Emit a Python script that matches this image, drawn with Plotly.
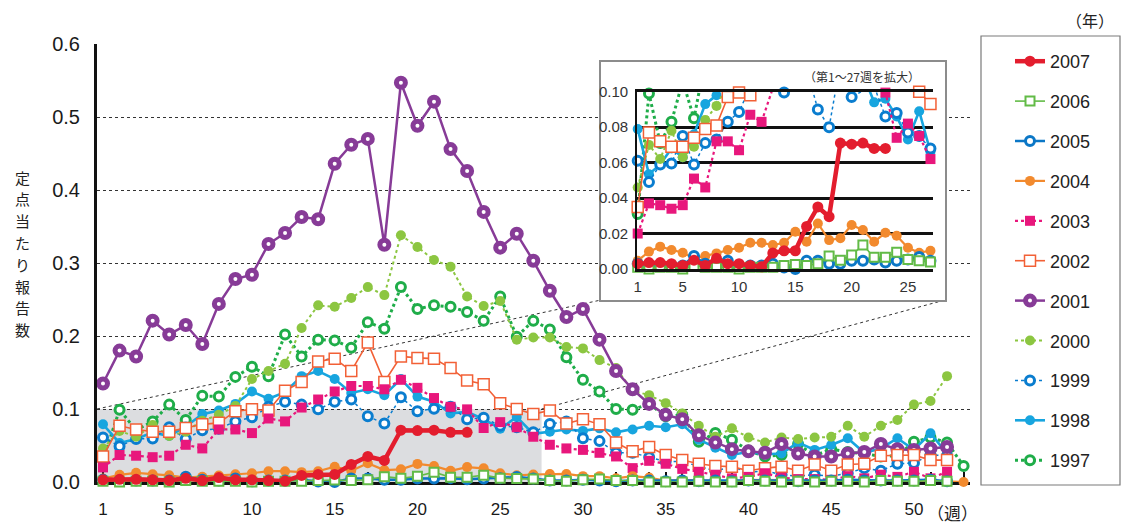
import plotly.graph_objects as go

W, H = 1122, 524

# ---------------- data ----------------
week_tick_vals = [1, 5, 10, 15, 20, 25, 30, 35, 40, 45, 50]
week_tick_labels = ["1", "5", "10", "15", "20", "25", "30", "35", "40", "45", "50"]
inset_tick_vals = [1, 5, 10, 15, 20, 25]
inset_tick_labels = ["1", "5", "10", "15", "20", "25"]
y_tick_vals = [0, 0.1, 0.2, 0.3, 0.4, 0.5, 0.6]
y_tick_labels = ["0.0", "0.1", "0.2", "0.3", "0.4", "0.5", "0.6"]
inset_y_tick_vals = [0, 0.02, 0.04, 0.06, 0.08, 0.10]
inset_y_tick_labels = ["0.00", "0.02", "0.04", "0.06", "0.08", "0.10"]
y_title_chars = ["定", "点", "当", "た", "り", "報", "告", "数"]

years = ["1997", "1998", "1999", "2000", "2001", "2002", "2003", "2004", "2005", "2006", "2007"]

v1997 = [0.031, 0.099, 0.071, 0.083, 0.106, 0.085, 0.118, 0.117, 0.144, 0.158,
         0.145, 0.202, 0.172, 0.195, 0.194, 0.184, 0.219, 0.210, 0.267, 0.237,
         0.242, 0.240, 0.233, 0.221, 0.254, 0.199, 0.221, 0.209, 0.171, 0.140,
         0.124, 0.100, 0.099, 0.107, 0.090, 0.092, 0.055, 0.067, 0.058, 0.043,
         0.035, 0.037, 0.052, 0.036, 0.045, 0.041, 0.039, 0.035, 0.036, 0.055,
         0.061, 0.054, 0.022]
v1998 = [0.079, 0.0535, 0.059, 0.068, 0.063, 0.076, 0.093, 0.098, 0.107, 0.124,
         0.114, 0.123, 0.145, 0.152, 0.141, 0.122, 0.127, 0.119, 0.141, 0.117,
         0.110, 0.094, 0.096, 0.086, 0.073, 0.089, 0.066, 0.069, 0.072, 0.070,
         0.0735, 0.068, 0.072, 0.077, 0.075, 0.079, 0.058, 0.047, 0.037, 0.0415,
         0.038, 0.039, 0.054, 0.044, 0.0507, 0.060, 0.040, 0.046, 0.060, 0.044,
         0.0667, 0.039]
v1999 = [0.061, 0.049, 0.059, 0.0595, 0.075, 0.059, 0.071, 0.073, 0.083, 0.0886,
         0.103, 0.110, 0.106, 0.0995, 0.110, 0.113, 0.090, 0.080, 0.116, 0.097,
         0.1005, 0.103, 0.086, 0.088, 0.077, 0.075, 0.068, 0.0795, 0.083, 0.060,
         0.056, 0.040, 0.040, 0.034, 0.028, 0.028, 0.021, 0.015, 0.021, 0.013,
         0.0155, 0.010, 0.008, 0.010, 0.008, 0.012, 0.019, 0.0155, 0.025, 0.026,
         0.037, 0.036]
v2000 = [0.046, 0.070, 0.062, 0.078, 0.063, 0.069, 0.084, 0.092, 0.104, 0.141,
         0.152, 0.162, 0.211, 0.242, 0.240, 0.252, 0.267, 0.256, 0.338, 0.322,
         0.304, 0.295, 0.254, 0.241, 0.248, 0.195, 0.198, 0.198, 0.185, 0.183,
         0.167, 0.156, 0.125, 0.119, 0.108, 0.094, 0.077, 0.062, 0.0735, 0.061,
         0.054, 0.061, 0.059, 0.061, 0.062, 0.077, 0.062, 0.077, 0.085, 0.106,
         0.111, 0.145]
v2001 = [0.135, 0.180, 0.172, 0.221, 0.202, 0.215, 0.189, 0.244, 0.278, 0.284,
         0.326, 0.341, 0.363, 0.360, 0.436, 0.462, 0.470, 0.325, 0.547, 0.488,
         0.521, 0.456, 0.426, 0.370, 0.321, 0.340, 0.303, 0.262, 0.226, 0.237,
         0.195, 0.152, 0.127, 0.107, 0.092, 0.086, 0.064, 0.054, 0.045, 0.042,
         0.040, 0.052, 0.039, 0.035, 0.035, 0.039, 0.041, 0.052, 0.045, 0.044,
         0.046, 0.048]
v2002 = [0.035, 0.077, 0.072, 0.069, 0.069, 0.074, 0.079, 0.081, 0.097, 0.0995,
         0.098, 0.125, 0.137, 0.165, 0.169, 0.152, 0.191, 0.137, 0.172, 0.170,
         0.169, 0.156, 0.139, 0.134, 0.108, 0.100, 0.093, 0.098, 0.080, 0.086,
         0.079, 0.054, 0.042, 0.048, 0.037, 0.030, 0.025, 0.022, 0.021, 0.0155,
         0.019, 0.021, 0.0155, 0.024, 0.0155, 0.024, 0.025, 0.036, 0.037, 0.037,
         0.030, 0.030]
v2003 = [0.020, 0.037, 0.036, 0.034, 0.036, 0.051, 0.046, 0.072, 0.072, 0.067,
         0.087, 0.083, 0.102, 0.113, 0.124, 0.1315, 0.1315, 0.127, 0.140, 0.129,
         0.115, 0.103, 0.0995, 0.074, 0.082, 0.075, 0.062, 0.051, 0.046, 0.044,
         0.040, 0.035, 0.019, 0.029, 0.025, 0.018, 0.014, 0.010, 0.005, 0.007,
         0.012, 0.006, 0.004, 0.004, 0.003, 0.008, 0.005, 0.010, 0.007, 0.014,
         0.005, 0.014]
v2004 = [0.0047, 0.0098, 0.0126, 0.0107, 0.0092, 0.006, 0.0073, 0.0088, 0.0107, 0.012,
         0.0148, 0.0148, 0.0135, 0.0148, 0.021, 0.0154, 0.0257, 0.0163, 0.0173, 0.0248,
         0.022, 0.0154, 0.0204, 0.0188, 0.012, 0.0092, 0.0103, 0.011, 0.011, 0.008,
         0.008, 0.005, 0.008, 0.006, 0.0015, 0.003, 0.002, 0.001, 0.001, 0.003,
         0.003, 0.002, 0.002, 0.002, 0.001, 0.002, 0.001, 0.002, 0.001, 0.002,
         0.002, 0.001, 0.0]
v2005 = [0.003, 0.002, 0.002, 0.002, 0.002, 0.0073, 0.003, 0.002, 0.0047, 0.001,
         0.002, 0.002, 0.003, 0.0008, 0.0, 0.0047, 0.0047, 0.003, 0.003, 0.0047,
         0.0047, 0.0053, 0.0036, 0.0047, 0.0053, 0.0068, 0.0047, 0.002, 0.002, 0.003,
         0.002, 0.001, 0.002, 0.002, 0.001, 0.002, 0.001, 0.002, 0.001, 0.002,
         0.002, 0.002, 0.001, 0.002, 0.002, 0.003, 0.002, 0.002, 0.002, 0.002,
         0.003, 0.001]
v2006 = [0.001, 0.0, 0.001, 0.001, 0.0, 0.002, 0.001, 0.001, 0.001, 0.0,
         0.001, 0.001, 0.001, 0.002, 0.0026, 0.002, 0.003, 0.0073, 0.005, 0.0079,
         0.0135, 0.0066, 0.0066, 0.0094, 0.0053, 0.0047, 0.004, 0.002, 0.001, 0.003,
         0.004, 0.002, 0.002, 0.0, 0.0, 0.0, 0.001, 0.0, 0.0, 0.002,
         0.001, 0.0, 0.001, 0.0, 0.001, 0.001, 0.0, 0.002, 0.001, 0.001,
         0.002, 0.001]
v2007 = [0.003, 0.0036, 0.0036, 0.003, 0.002, 0.005, 0.002, 0.006, 0.003, 0.003,
         0.002, 0.0012, 0.009, 0.0103, 0.0103, 0.024, 0.035, 0.0295, 0.071, 0.0704,
         0.071, 0.068, 0.068]

values = {"1997": v1997, "1998": v1998, "1999": v1999, "2000": v2000, "2001": v2001,
          "2002": v2002, "2003": v2003, "2004": v2004, "2005": v2005, "2006": v2006,
          "2007": v2007}

# ---------------- styles ----------------
styles = {
    "2007": dict(color="#e31d2e", width=4.5, dash="solid", symbol="circle", size=11, open=False, lw=0),
    "2006": dict(color="#62bb47", width=1.6, dash="solid", symbol="square", size=9, open=True, lw=2),
    "2005": dict(color="#0b77c6", width=2.5, dash="solid", symbol="circle", size=9, open=True, lw=3),
    "2004": dict(color="#f28a2e", width=2.2, dash="solid", symbol="circle", size=10, open=False, lw=0),
    "2003": dict(color="#e8177c", width=2.2, dash="dot", symbol="square", size=10, open=False, lw=0),
    "2002": dict(color="#f26036", width=1.6, dash="solid", symbol="square", size=11, open=True, lw=1.5),
    "2001": dict(color="#873b97", width=2.5, dash="solid", symbol="circle", size=9, open=True, lw=5),
    "2000": dict(color="#8cc641", width=2.0, dash="dot", symbol="circle", size=10, open=False, lw=0),
    "1999": dict(color="#0a7dcf", width=1.5, dash="dot", symbol="circle", size=9, open=True, lw=3),
    "1998": dict(color="#17a5df", width=2.6, dash="solid", symbol="circle", size=10, open=False, lw=0),
    "1997": dict(color="#1fad49", width=3.0, dash="dot", symbol="circle", size=9, open=True, lw=3),
}

FONT = "Liberation Sans, Arial, Helvetica, sans-serif"
JFONT = "Noto Sans CJK JP, sans-serif"


def px(p):
    return p / W


def py(p):
    return (H - p) / H


def marker_of(s):
    if s["open"]:
        return dict(symbol=s["symbol"], size=s["size"], color="white",
                    line=dict(color=s["color"], width=s["lw"]))
    return dict(symbol=s["symbol"], size=s["size"], color=s["color"], line=dict(width=0))


fig = go.Figure()

# main chart traces (drawn oldest first, legend newest first)
for i, yr in enumerate(years):
    s = styles[yr]
    vals = values[yr]
    wk = list(range(1, len(vals) + 1))
    fig.add_trace(go.Scatter(
        x=wk, y=vals, name=yr, mode="lines+markers",
        line=dict(color=s["color"], width=s["width"], dash=s["dash"]),
        marker=marker_of(s), cliponaxis=False, legendgroup=yr,
        legendrank=100 + (len(years) - i),
        xaxis="x", yaxis="y"))

# inset background box subplot
fig.add_trace(go.Scatter(x=[], y=[], xaxis="x2", yaxis="y2", showlegend=False, hoverinfo="skip"))

# inset traces (weeks 1-27)
INSET_MAX_WEEK = 27
INSET_TOP = 0.1
for yr in years:
    s = styles[yr]
    vals = values[yr][:INSET_MAX_WEEK]
    wk = list(range(1, len(vals) + 1))
    fig.add_trace(go.Scatter(
        x=wk, y=vals, mode="lines", showlegend=False,
        line=dict(color=s["color"], width=s["width"], dash=s["dash"]),
        cliponaxis=True, xaxis="x3", yaxis="y3", hoverinfo="skip"))
    mk_x = [w for w, v in zip(wk, vals) if v <= INSET_TOP + 0.0006]
    mk_y = [v for v in vals if v <= INSET_TOP + 0.0006]
    fig.add_trace(go.Scatter(
        x=mk_x, y=mk_y, mode="markers", showlegend=False,
        marker=marker_of(s), cliponaxis=False, xaxis="x3", yaxis="y3"))

# ---------------- layout geometry ----------------
MAIN_L, MAIN_R, MAIN_T, MAIN_B = 97, 970, 44, 482
WEEK1_PX, WEEK_PX = 103, 16.55
x_lo = 1 - (WEEK1_PX - MAIN_L) / WEEK_PX
x_hi = 1 + (MAIN_R - WEEK1_PX) / WEEK_PX

BOX_L, BOX_R, BOX_T, BOX_B = 601, 945, 62, 300
IN_W1, IN_WPX = 637.7, 11.26
IN_T, IN_B = 91.7, 269
in_x_lo, in_x_hi = 0.95, 27.2

all_weeks = list(range(1, 54))
all_week_text = [week_tick_labels[week_tick_vals.index(w)] if w in week_tick_vals else "" for w in all_weeks]

fig.update_layout(
    width=W, height=H, autosize=False,
    margin=dict(l=0, r=0, t=0, b=0, autoexpand=False),
    paper_bgcolor="white", plot_bgcolor="white",
    font=dict(family=FONT, color="#1a1a1a"),
    showlegend=True,
    legend=dict(x=px(1010), y=py(43), xanchor="left", yanchor="top",
                traceorder="grouped", tracegroupgap=13.5,
                font=dict(size=18, family=FONT, color="#222"),
                bgcolor="rgba(0,0,0,0)", borderwidth=0, itemsizing="trace"),
    xaxis=dict(domain=[px(MAIN_L), px(MAIN_R)], range=[x_lo, x_hi],
               tickmode="array", tickvals=all_weeks, ticktext=all_week_text,
               ticks="inside", ticklen=10, tickwidth=2, tickcolor="#111",
               showline=True, linewidth=3, linecolor="#111", showgrid=False, zeroline=False,
               tickfont=dict(size=17, family=FONT, color="#1a1a1a"), ticklabelstandoff=10,
               layer="below traces", anchor="y", fixedrange=True, automargin=False),
    yaxis=dict(domain=[py(MAIN_B), py(MAIN_T)], range=[0, 0.6],
               tickmode="array", tickvals=y_tick_vals, ticktext=y_tick_labels,
               showgrid=True, gridcolor="#333", gridwidth=1, griddash="dot",
               showline=True, linewidth=3, linecolor="#111", zeroline=False, ticks="",
               tickfont=dict(size=20, family=FONT, color="#1a1a1a"), ticklabelstandoff=10,
               anchor="x", fixedrange=True, automargin=False),
    xaxis2=dict(domain=[px(BOX_L), px(BOX_R)], range=[0, 1], showline=True, mirror=True,
                linecolor="#8c8c8c", linewidth=1.5, showgrid=False, zeroline=False,
                showticklabels=False, ticks="", anchor="y2", fixedrange=True, automargin=False),
    yaxis2=dict(domain=[py(BOX_B), py(BOX_T)], range=[0, 1], showline=True, mirror=True,
                linecolor="#8c8c8c", linewidth=1.5, showgrid=False, zeroline=False,
                showticklabels=False, ticks="", anchor="x2", fixedrange=True, automargin=False),
    xaxis3=dict(domain=[px(IN_W1 + (in_x_lo - 1) * IN_WPX), px(IN_W1 + (in_x_hi - 1) * IN_WPX)],
                range=[in_x_lo, in_x_hi], tickmode="array", tickvals=inset_tick_vals,
                ticktext=inset_tick_labels, showline=True, mirror=True, linewidth=3, linecolor="#111",
                showgrid=False, zeroline=False, ticks="",
                tickfont=dict(size=15, family=FONT, color="#333"), ticklabelstandoff=2,
                anchor="y3", fixedrange=True, automargin=False),
    yaxis3=dict(domain=[py(IN_B), py(IN_T)], range=[0, 0.1], tickmode="array",
                tickvals=inset_y_tick_vals, ticktext=inset_y_tick_labels,
                showgrid=True, gridcolor="#111", gridwidth=3,
                showline=True, linewidth=2, linecolor="#111", zeroline=False, ticks="",
                tickfont=dict(size=15, family=FONT, color="#333"), ticklabelstandoff=4,
                anchor="x3", fixedrange=True, automargin=False),
)

# grey zoom area (weeks 1-27, 0-0.1) in main chart
zoom_right_week = 27.5
fig.add_shape(type="rect", xref="x", yref="y", x0=x_lo, x1=zoom_right_week, y0=0, y1=0.1,
              fillcolor="#dcdde0", line=dict(width=0), layer="below")


def week_at(p):
    return 1 + (p - WEEK1_PX) / WEEK_PX


def val_at(p):
    return (MAIN_B - p) / (MAIN_B - MAIN_T) * 0.6


# connector lines from grey area to inset box
fig.add_shape(type="line", xref="x", yref="y", x0=x_lo, y0=0.1, x1=week_at(BOX_L), y1=val_at(BOX_B),
              line=dict(color="#333", width=1, dash="dot"), layer="below")
fig.add_shape(type="line", xref="x", yref="y", x0=zoom_right_week, y0=0.1, x1=week_at(BOX_R), y1=val_at(BOX_B),
              line=dict(color="#333", width=1, dash="dot"), layer="below")

# legend frame
fig.add_shape(type="rect", xref="paper", yref="paper", x0=px(981), x1=px(1120), y0=py(485), y1=py(36),
              line=dict(color="#7a7a7a", width=1.2), fillcolor="rgba(0,0,0,0)", layer="above")

# y-axis title, stacked vertically one character per line
TITLE_TOP, TITLE_STEP = 177, 21.8
for k, ch in enumerate(y_title_chars):
    fig.add_annotation(text=ch, xref="paper", yref="paper", x=px(22), y=py(TITLE_TOP + k * TITLE_STEP),
                       showarrow=False, xanchor="center", yanchor="middle",
                       font=dict(size=15, family=JFONT, color="#222"))

fig.add_annotation(text="（年）", xref="paper", yref="paper", x=px(1090), y=py(20), showarrow=False,
                   xanchor="center", yanchor="middle", font=dict(size=16, family=JFONT, color="#222"))
fig.add_annotation(text="（週）", xref="paper", yref="paper", x=px(925), y=py(512), showarrow=False,
                   xanchor="left", yanchor="middle", font=dict(size=17, family=JFONT, color="#222"))
fig.add_annotation(text="（第1～27週を拡大）", xref="paper", yref="paper", x=px(862), y=py(76),
                   showarrow=False, xanchor="center", yanchor="middle",
                   font=dict(size=12, family=JFONT, color="#333"))

fig.write_html("out.html", config={"displayModeBar": False},
               post_script="document.body.style.margin='0px';")
